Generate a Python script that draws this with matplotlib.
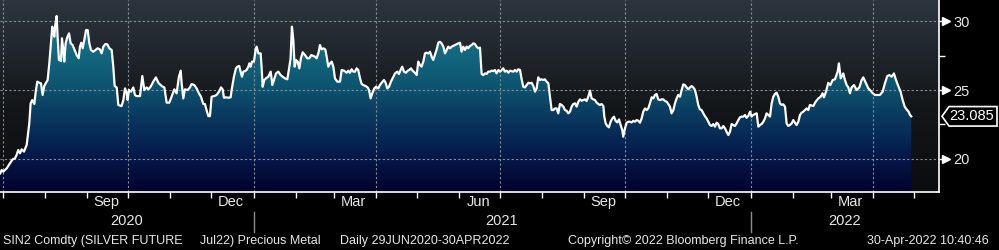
import numpy as np
import pandas as pd
import matplotlib
matplotlib.use('Agg')
import matplotlib.pyplot as plt
import matplotlib.dates as mdates
import matplotlib.transforms as mtransforms
from matplotlib.colors import LinearSegmentedColormap
from matplotlib.patches import Polygon

plt.rcParams['font.family'] = ['Liberation Sans', 'DejaVu Sans']

# =============================================================================
# data: SIN2 Comdty (silver future Jul22)
# day = days after 29 Jun 2020
# =============================================================================
start = pd.Timestamp('2020-06-29')

day = [
    0, 1.0, 2.2, 4.7, 7.1, 9.1, 10.8, 12.0, 13.2, 14.5,
    15.7, 17.4, 19.4, 21.3, 22.3, 23.5, 25.0, 26.2, 27.2, 28.7,
    29.9, 31.1, 32.3, 33.6, 34.8, 36.0, 37.2, 38.2, 39.0, 39.7,
    40.4, 41.4, 42.1, 43.1, 44.6, 45.3, 46.3, 47.0, 48.0, 49.2,
    50.5, 51.7, 53.1, 54.6, 56.1, 57.6, 58.5, 59.5, 60.5, 61.7,
    63.0, 64.2, 65.4, 66.6, 68.3, 70.0, 71.5, 73.2, 74.4, 75.7,
    77.1, 78.6, 80.1, 81.8, 83.0, 84.0, 85.5,
    86.7, 89.1, 90.4, 91.6, 92.8, 93.5, 94.5, 96.0, 97.7, 98.9,
    100.1, 102.6, 104.3, 105.8, 107.5, 108.7, 110.4, 112.4, 114.3, 116.1,
    118.5, 120.5, 122.2, 124.1, 125.8, 127.8, 129.5, 131.2, 132.5, 133.2,
    134.4, 135.6, 137.6, 139.3, 140.5, 142.5, 144.2, 145.9, 147.4, 149.1,
    150.3, 151.5, 152.8, 154.0, 155.2, 157.2, 158.9, 160.6, 162.1, 163.3,
    164.3, 165.7, 167.5, 169.2,
    169.9, 171.6, 173.1, 174.1, 175.5, 176.5, 177.5, 178.5, 179.7, 180.9,
    182.2, 182.9, 183.9, 184.8, 186.3, 187.5, 188.3, 189.5, 191.2, 191.9,
    192.7, 193.9, 195.1, 196.8, 198.6, 199.8, 201.0, 202.5, 204.2, 205.9,
    207.4, 209.1, 210.8, 212.3, 213.2, 214.2, 215.2, 216.2, 217.2, 218.4,
    219.6, 220.8, 222.1, 223.8, 225.5, 226.9, 228.4, 229.9, 231.1, 232.3,
    233.6, 234.8, 236.0, 237.2, 238.7, 239.7, 240.9, 242.1, 243.4, 244.6,
    245.8, 247.5, 249.5, 250.7, 252.4,
    254.4, 255.6, 256.8, 258.0, 259.3, 260.5, 261.7, 262.9, 264.2, 265.4,
    266.6, 268.3, 269.8, 270.8, 272.0, 273.2, 274.7, 275.9, 277.6, 278.8,
    280.1, 281.8, 283.0, 284.2, 285.5, 286.9, 288.1, 289.9, 291.6, 292.8,
    294.0, 295.2, 296.5, 297.9, 299.2, 300.4, 301.6, 302.8, 304.5, 305.8,
    307.0, 308.2, 309.4, 310.7, 311.9, 313.1, 314.3, 315.6, 316.8, 318.0,
    319.2, 320.5, 321.7, 322.9, 324.1, 325.4, 326.6, 327.8, 329.0, 330.3,
    331.5, 333.9, 336.4,
    337.6, 338.8, 340.0, 341.3, 342.5, 343.7, 344.9, 346.2, 347.4, 348.6,
    349.8, 351.1, 352.3, 353.5, 354.7, 356.0, 357.2, 358.4, 359.6, 360.9,
    362.1, 363.3, 364.5, 365.8, 367.0, 368.2, 369.4, 370.6, 371.9, 373.1,
    374.3, 375.5, 376.8, 378.0, 379.2, 380.4, 381.7, 382.9, 384.1, 385.3,
    386.6, 387.8, 389.0, 390.2, 391.5, 392.7, 393.9, 395.1, 396.4, 397.6,
    398.8, 400.0, 401.2, 402.5, 403.7, 404.9, 406.1, 407.4, 408.6, 409.8,
    411.0, 412.3, 413.5, 414.7, 415.9, 417.2, 418.4, 419.6, 420.8,
    422.1, 423.3, 424.5, 425.7, 427.0, 428.2, 429.4, 430.6, 431.8, 433.1,
    434.3, 435.5, 436.7, 438.0, 439.2, 440.4, 441.6, 442.9, 443.6, 444.6,
    445.8, 447.0, 448.2, 449.5, 450.7, 451.9, 453.1, 454.4, 455.6, 456.8,
    457.5, 458.8, 460.0, 461.2, 462.4, 463.7, 464.9, 466.1, 467.3, 468.6,
    469.8, 471.0, 472.2, 473.5, 474.7, 475.9, 477.1, 478.4, 479.6, 480.8,
    482.0, 483.2, 484.5, 485.7, 486.9, 488.1, 489.4, 490.6, 491.8, 493.0,
    494.3, 495.5, 496.7, 497.9, 499.2, 500.4, 501.6, 502.8, 504.1, 505.3,
    506.5, 507.7, 509.0, 510.2, 511.4, 512.6, 513.8, 515.1, 516.3, 517.5,
    518.7, 520.0, 521.2, 522.4, 523.6, 524.9, 526.1, 527.3, 528.5, 529.8,
    531.0, 532.2, 533.4, 534.7, 535.9, 537.1, 538.3, 539.5, 540.8, 542.0,
    543.2, 544.4, 545.7, 546.9, 548.1, 549.3, 550.6, 551.8, 553.0, 554.2,
    555.5, 556.7, 557.9, 559.1, 560.4, 561.6, 562.8, 564.0, 565.3, 566.5,
    567.7, 568.9, 570.1, 571.4, 572.6, 573.8, 575.0, 576.3, 577.5, 578.7,
    579.9, 581.2, 582.4, 583.6, 584.8, 586.1, 587.3, 588.5, 589.7, 591.0,
    592.2, 593.4, 594.6,
    597.1, 598.8, 600.8, 602.5, 603.9, 604.9, 606.4, 608.1, 609.6, 611.3,
    613.0, 615.0, 615.9, 617.2, 619.1, 620.3, 621.6, 622.8, 624.0, 625.2,
    627.0, 628.9, 630.9, 632.6, 633.8, 635.8, 637.5, 639.2, 640.7, 642.4,
    644.3, 646.0, 648.0, 649.7, 651.4, 652.9, 654.6, 656.3, 657.8, 659.5,
    661.2, 662.7, 664.2, 665.6, 667.1, 668.0, 669.0,
]

price = [
    18.93, 19.17, 19.05, 19.29, 19.66, 19.95, 20.02, 20.27, 20.63, 20.39,
    20.68, 20.51, 21.00, 22.57, 24.03, 24.27, 23.98, 25.00, 25.61, 25.53,
    25.49, 24.64, 25.29, 25.53, 25.73, 26.94, 28.40, 29.62, 29.13, 28.89,
    29.74, 30.39, 28.89, 27.19, 27.11, 28.77, 27.92, 27.07, 28.40, 28.84,
    29.13, 28.40, 28.28, 27.92, 27.55, 27.31, 28.16, 28.45, 28.04, 28.64,
    29.37, 29.37, 28.40, 27.92, 27.79, 27.92, 28.04, 27.96, 27.67, 28.16,
    28.35, 28.33, 28.04, 27.92, 26.70, 25.29, 25.19,
    23.91, 23.83, 24.27, 25.12, 24.81, 24.27, 25.00, 24.88, 25.19, 24.64,
    24.56, 24.56, 26.02, 25.00, 25.19, 25.05, 25.24, 25.61, 25.92, 25.53,
    25.29, 25.19, 24.08, 24.08, 24.51, 25.05, 24.76, 25.97, 26.41, 25.49,
    24.39, 25.05, 25.00, 25.19, 25.44, 25.36, 25.12, 24.76, 24.51, 23.98,
    23.98, 23.54, 23.10, 23.10, 24.51, 24.56, 24.64, 24.88, 25.19, 25.05,
    24.44, 24.47, 24.44, 24.47,
    25.00, 25.97, 26.58, 26.70, 26.75, 26.34, 25.97, 26.34, 26.38, 26.46,
    26.70, 26.94, 26.70, 27.07, 27.07, 27.92, 28.16, 27.67, 27.67, 26.70,
    25.24, 25.73, 25.85, 25.97, 26.34, 25.36, 25.73, 26.21, 26.34, 26.09,
    25.97, 25.85, 25.78, 26.70, 27.31, 29.62, 28.64, 26.70, 27.19, 27.07,
    26.58, 27.31, 27.75, 27.55, 27.31, 27.31, 27.55, 27.48, 27.43, 27.31,
    27.67, 28.28, 27.96, 28.04, 27.96, 27.43, 26.70, 26.94, 27.07, 26.70,
    25.85, 25.61, 25.61, 26.46, 26.41,
    26.26, 26.41, 26.26, 26.51, 26.34, 26.34, 26.58, 26.46, 25.85, 25.44,
    25.36, 25.29, 25.19, 25.00, 24.39, 24.76, 25.12, 25.24, 25.12, 25.36,
    25.53, 25.73, 25.53, 25.12, 25.24, 25.61, 25.85, 26.21, 26.34, 26.17,
    26.46, 26.70, 26.34, 26.26, 26.41, 26.46, 26.58, 26.41, 26.26, 26.09,
    27.07, 26.82, 26.70, 27.07, 27.67, 27.72, 27.67, 27.79, 27.43, 27.19,
    27.55, 27.96, 28.45, 28.52, 28.40, 28.16, 27.67, 27.92, 28.16, 28.04,
    28.16, 28.28, 28.40,
    28.45, 27.79, 28.16, 27.92, 28.16, 28.04, 28.21, 28.28, 28.40, 28.35,
    28.16, 28.04, 28.09, 26.17, 26.09, 26.21, 26.17, 26.34, 26.34, 26.41,
    26.38, 26.46, 26.21, 26.46, 26.34, 26.46, 26.58, 26.34, 26.41, 26.26,
    26.41, 26.38, 26.34, 26.46, 26.34, 26.51, 26.46, 25.78, 25.24, 25.19,
    25.36, 25.53, 25.49, 25.53, 25.29, 24.88, 25.12, 25.92, 25.73, 25.78,
    25.73, 25.78, 25.61, 25.49, 24.51, 23.54, 23.54, 23.66, 23.66, 23.30,
    23.98, 23.91, 23.79, 23.54, 23.49, 23.30, 23.42, 23.79, 23.98,
    24.03, 23.79, 24.15, 24.32, 24.22, 24.27, 24.32, 24.20, 24.51, 24.95,
    24.39, 24.32, 24.27, 24.08, 23.98, 23.91, 23.98, 23.83, 23.06, 22.57,
    22.38, 22.28, 22.69, 22.93, 23.06, 22.76, 22.64, 22.86, 22.45, 22.08,
    21.60, 22.21, 22.62, 22.69, 22.69, 22.64, 22.76, 22.69, 22.81, 22.76,
    22.62, 22.93, 23.42, 23.66, 23.54, 23.66, 24.03, 24.47, 24.39, 24.64,
    24.71, 24.32, 24.27, 24.32, 24.32, 24.20, 24.15, 23.98, 23.79, 23.30,
    23.54, 24.03, 24.39, 24.64, 24.51, 25.00, 25.41, 25.36, 25.19, 25.05,
    25.19, 25.29, 25.19, 25.00, 24.51, 23.91, 23.59, 23.54, 23.30, 23.10,
    22.93, 22.69, 22.45, 22.38, 22.52, 22.33, 22.62, 22.52, 22.21, 22.21,
    22.38, 22.21, 21.96, 21.72, 21.96, 22.52, 22.45, 22.38, 22.57, 22.81,
    23.01, 23.06, 23.06, 23.18, 22.98, 23.10, 23.42, 23.06, 23.18, 23.25,
    23.30, 22.33, 22.45, 22.52, 22.69, 22.93, 23.30, 23.18, 23.06, 24.03,
    24.51, 24.71, 24.81, 24.51, 24.03, 23.91, 23.96, 23.79, 22.57, 22.38,
    22.45, 22.57, 22.81, 22.62, 22.45, 22.69, 23.18, 23.35, 23.42, 23.54,
    23.66, 23.54, 23.91,
    23.83, 24.15, 24.39, 24.51, 24.76, 24.47, 24.88, 25.53, 25.36, 25.73,
    25.78, 26.34, 26.94, 25.85, 26.21, 25.73, 25.36, 25.19, 24.76, 25.19,
    25.36, 25.00, 25.19, 25.73, 25.92, 25.49, 25.12, 24.95, 24.76, 24.64,
    24.64, 24.64, 24.88, 25.49, 26.02, 26.09, 25.97, 26.21, 25.73, 25.29,
    24.88, 24.27, 23.79, 23.59, 23.42, 23.20, 23.085,
]

y_ticks = [20, 25, 30]
y_minor = [22.5, 27.5]
footer = [
    (3, 'SIN2 Comdty (SILVER FUTURE'),
    (200, 'Jul22) Precious Metal'),
    (340, 'Daily 29JUN2020-30APR2022'),
    (568, 'Copyright\u00a9 2022 Bloomberg Finance L.P.'),
    (867, '30-Apr-2022 10:40:46'),
]

# =============================================================================
# figure
# =============================================================================
dates = start + pd.to_timedelta(day, unit='D')
x = mdates.date2num(dates)
x0 = mdates.date2num(start) - 0.2
x1 = mdates.date2num(start) + 689.4
y0, y1 = 17.57, 31.56

fig = plt.figure(figsize=(9.99, 2.5), dpi=100, facecolor='black')
ax = fig.add_axes([0, 58 / 250, 939 / 999, 192 / 250])
ax.set_xlim(x0, x1)
ax.set_ylim(y0, y1)

grad = np.linspace(0, 1, 256).reshape(-1, 1)
bg_cmap = LinearSegmentedColormap.from_list(
    'bg', [(0, '#0b0c0e'), (0.45, '#14171a'), (1, '#2c353e')])
ax.imshow(grad, cmap=bg_cmap, origin='lower', aspect='auto',
          extent=[x0, x1, y0, y1], zorder=0)

fill_cmap = LinearSegmentedColormap.from_list(
    'fill', [(0, '#02032b'), (0.18, '#05184a'), (0.4, '#0a3a60'),
             (0.55, '#0e5470'), (0.75, '#146a80'), (1, '#1f8294')])
poly = ax.fill_between(x, price, y0, facecolor='none', edgecolor='none')
im = ax.imshow(grad, cmap=fill_cmap, origin='lower', aspect='auto',
               extent=[x0, x1, y0, y1], zorder=1)
im.set_clip_path(poly.get_paths()[0], transform=ax.transData)

ax.plot(x, price, color='white', lw=1.6, zorder=4, solid_joinstyle='round')

# grid
grid_kw = dict(color='#858d96', lw=0.8, ls=(0, (2, 2)), zorder=2)
for yv in y_ticks:
    ax.axhline(yv, **grid_kw)
for q in pd.date_range('2020-07-01', '2022-04-01', freq='QS'):
    ax.axvline(mdates.date2num(q), **grid_kw)
ax.set_xlim(x0, x1)
ax.set_ylim(y0, y1)

for s in ['left', 'top']:
    ax.spines[s].set_visible(False)
for s in ['bottom', 'right']:
    ax.spines[s].set_color('white')
    ax.spines[s].set_linewidth(1.2)

# x axis
ax.xaxis.set_major_locator(mdates.MonthLocator())
ax.xaxis.set_major_formatter(plt.NullFormatter())
ax.xaxis.set_minor_locator(mdates.MonthLocator(bymonth=[3, 6, 9, 12], bymonthday=15))
ax.xaxis.set_minor_formatter(mdates.DateFormatter('%b'))
ax.tick_params(axis='x', which='major', length=4, width=1, color='white')
ax.tick_params(axis='x', which='minor', length=0, pad=2.5, labelsize=10.5,
               labelcolor='#e6e6e6')

xt = ax.get_xaxis_transform()
years = [2020, 2021, 2022]
for yr in years:
    a = max(mdates.date2num(pd.Timestamp(f'{yr}-01-01')), x0)
    b = min(mdates.date2num(pd.Timestamp(f'{yr + 1}-01-01')), x1)
    ax.text((a + b) / 2, -0.153, str(yr), transform=xt, ha='center',
            va='center', fontsize=10.5, color='#e6e6e6')
    if yr > 2020:
        ax.plot([a, a], [-0.104, -0.208], transform=xt, clip_on=False,
                color='#8c8c8c', lw=1)

# y axis on the right with arrow ticks
ax.yaxis.tick_right()
ax.set_yticks(y_ticks)
ax.set_yticks(y_minor, minor=True)
ax.yaxis.set_minor_formatter(plt.NullFormatter())
ax.tick_params(axis='y', which='major', length=5, width=1, color='white',
               labelcolor='#e6e6e6', labelsize=10.5, pad=5.5)
ax.tick_params(axis='y', which='minor', length=4, width=1, color='white')
ax.plot([1.0075] * len(y_ticks), y_ticks, ls='none', marker='>', ms=6,
        color='white', transform=ax.get_yaxis_transform(), clip_on=False)

# last value tag
last = price[-1]
tr = mtransforms.blended_transform_factory(fig.transFigure, ax.transData)
h = 0.71
tag = Polygon([(942 / 999, last), (949 / 999, last + h), (997 / 999, last + h),
               (997 / 999, last - h), (949 / 999, last - h)],
              closed=True, transform=tr, facecolor='black', edgecolor='white',
              lw=1.2, clip_on=False, zorder=6)
ax.add_patch(tag)
ax.text(972 / 999, last, f'{last:.3f}', transform=tr, ha='center', va='center',
        fontsize=10.5, color='white', clip_on=False, zorder=7)

# footer
for px, s in footer:
    fig.text(px / 999, 1 - 241 / 250, s, ha='left', va='center', fontsize=9,
             color='#e6e6e6')

fig.savefig('out.png', dpi=100, facecolor='black')
